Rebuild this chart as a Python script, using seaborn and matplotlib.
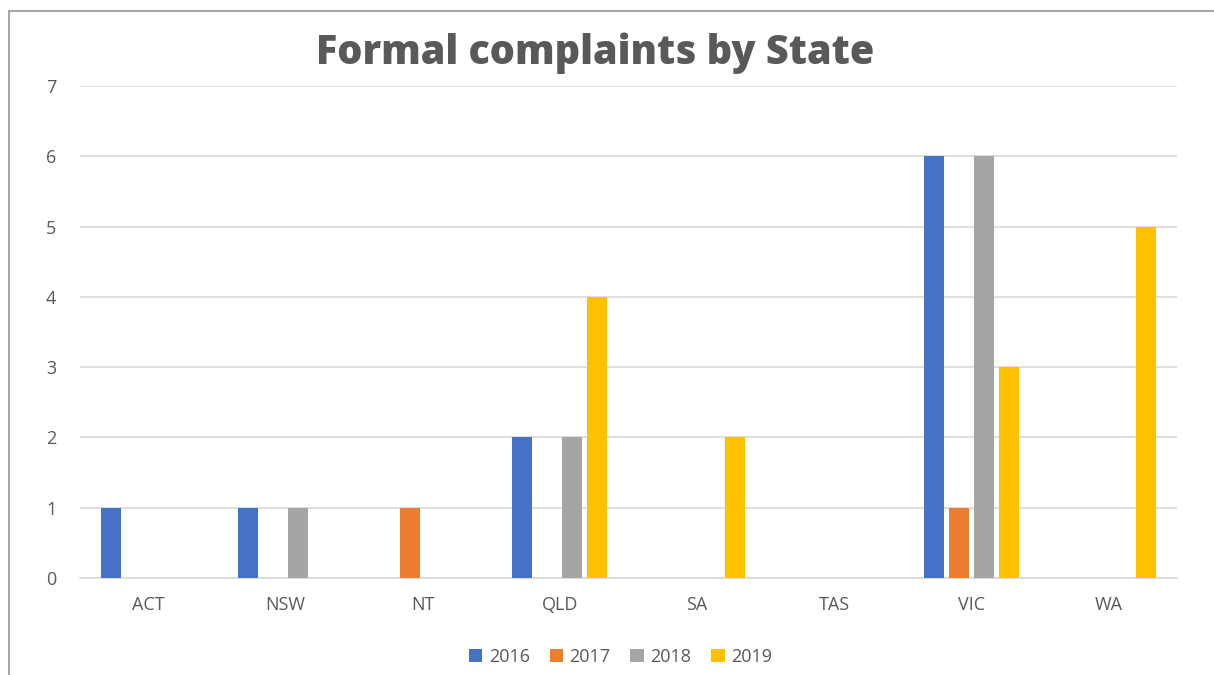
import matplotlib
matplotlib.use("Agg")
import matplotlib.pyplot as plt
from matplotlib.patches import Rectangle
import seaborn as sns
import pandas as pd

states = ["ACT", "NSW", "NT", "QLD", "SA", "TAS", "VIC", "WA"]
years = ["2016", "2017", "2018", "2019"]
complaints_2016 = [1, 1, 0, 2, 0, 0, 6, 0]
complaints_2017 = [0, 0, 1, 0, 0, 0, 1, 0]
complaints_2018 = [0, 1, 0, 2, 0, 0, 6, 0]
complaints_2019 = [0, 0, 0, 4, 2, 0, 3, 5]
colors = ["#4472C4", "#ED7D31", "#A5A5A5", "#FFC000"]

rows = []
for year, vals in zip(years, [complaints_2016, complaints_2017, complaints_2018, complaints_2019]):
    for st, v in zip(states, vals):
        rows.append({"State": st, "Year": year, "Complaints": v})
df = pd.DataFrame(rows)

sns.set_theme(style="white")
plt.rcParams["font.family"] = ["Open Sans", "DejaVu Sans"]

fig = plt.figure(figsize=(12.14, 6.75), dpi=100)
ax = fig.add_axes([0.0659, 0.1437, 0.9036, 0.7289])

sns.barplot(data=df, x="State", y="Complaints", hue="Year", order=states,
            hue_order=years, palette=colors, width=0.73, gap=0.2,
            saturation=1, ax=ax, legend=True, zorder=3, linewidth=0)

ax.set_ylim(0, 7)
ax.set_yticks(range(0, 8))
ax.set_xlim(-0.5, len(states) - 0.5)
ax.yaxis.grid(True, color="#D9D9D9", linewidth=1.2, zorder=0)
ax.set_axisbelow(True)
for side in ["top", "right", "left"]:
    ax.spines[side].set_visible(False)
ax.spines["bottom"].set_color("#D9D9D9")
ax.spines["bottom"].set_linewidth(1.2)
ax.set_xlabel("")
ax.set_ylabel("")
ax.tick_params(axis="both", length=0, labelsize=13, colors="#595959")
ax.tick_params(axis="y", pad=17)
ax.tick_params(axis="x", pad=13)

fig.suptitle("Formal complaints by State", x=0.490, y=0.952,
             fontsize=28.5, fontweight=800, color="#595959", family="Open Sans")

handles, labels = ax.get_legend_handles_labels()
ax.legend_.remove()
fig.legend(handles, labels, loc="center", bbox_to_anchor=(0.511, 0.027),
           ncol=4, frameon=False, fontsize=13, handlelength=0.75,
           handleheight=0.75, handletextpad=0.35, columnspacing=1.1,
           labelcolor="#595959")

# chart frame
fig.patches.append(Rectangle((9 / 1214, -0.1), 1.2, 1.1 - 11 / 675,
                             transform=fig.transFigure, fill=False,
                             edgecolor="#A6A6A6", linewidth=1.5))

fig.savefig("out.png", dpi=100, facecolor="white")
